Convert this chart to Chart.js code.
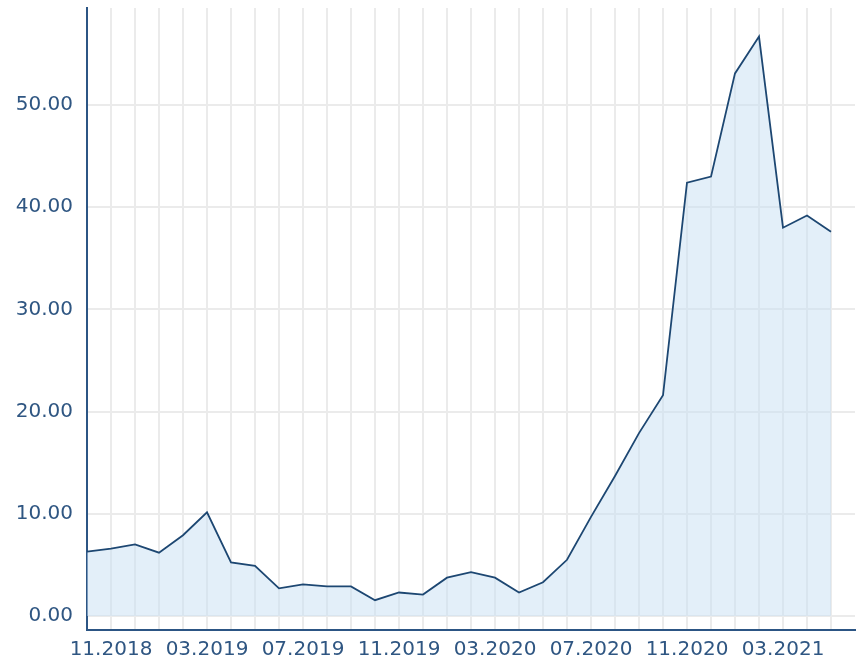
<!DOCTYPE html>
<html>
<head>
<meta charset="utf-8">
<script src="https://cdn.jsdelivr.net/npm/chart.js@4"></script>
<style>
  html, body { margin: 0; padding: 0; background: #fff; }
  #wrap { width: 861px; height: 661px; }
</style>
</head>
<body>
<div id="wrap"><canvas id="myChart" width="861" height="661"></canvas></div>
<script>
// months on the x axis (last one is the empty slot at the right edge)
const months = [
  '10.2018', '11.2018', '12.2018', '01.2019', '02.2019', '03.2019', '04.2019', '05.2019',
  '06.2019', '07.2019', '08.2019', '09.2019', '10.2019', '11.2019', '12.2019', '01.2020',
  '02.2020', '03.2020', '04.2020', '05.2020', '06.2020', '07.2020', '08.2020', '09.2020',
  '10.2020', '11.2020', '12.2020', '01.2021', '02.2021', '03.2021', '04.2021', '05.2021',
  '06.2021'
];

const values = [
  6.3, 6.6, 7.0, 6.2, 7.9, 10.15, 5.25, 4.9,
  2.7, 3.1, 2.9, 2.9, 1.55, 2.3, 2.1, 3.75,
  4.3, 3.75, 2.3, 3.3, 5.5, 9.7, 13.7, 17.9,
  21.6, 42.4, 43.0, 53.1, 56.7, 38.0, 39.2, 37.6
];

const yTicks = [0, 10, 20, 30, 40, 50];

const textColor = '#2f5682';
const axisColor = '#2c5584';

const ctx = document.getElementById('myChart').getContext('2d');
new Chart(ctx, {
  type: 'line',
  data: {
    labels: months,
    datasets: [{
      data: values,
      borderColor: '#1d4772',
      borderWidth: 1.8,
      backgroundColor: 'rgba(199, 223, 243, 0.5)',
      fill: 'origin',
      pointRadius: 0,
      tension: 0
    }]
  },
  options: {
    responsive: false,
    animation: false,
    layout: { padding: { top: 8, right: 6, left: 0, bottom: 0 } },
    plugins: { legend: { display: false }, tooltip: { enabled: false } },
    scales: {
      x: {
        offset: false,
        border: { color: axisColor, width: 2 },
        grid: {
          drawTicks: false,
          lineWidth: 2,
          color: c => (c.index === 0 || c.index === months.length - 1) ? 'rgba(0,0,0,0)' : '#ebebeb'
        },
        ticks: {
          autoSkip: false,
          maxRotation: 0,
          padding: 8,
          color: textColor,
          font: { family: 'DejaVu Sans', size: 20 },
          callback: function (value, index) {
            return index % 4 === 1 ? this.getLabelForValue(value) : '';
          }
        },
        afterFit: s => {
          s.height = 31;
          s.paddingLeft = 0;
          s.paddingRight = 0;
        }
      },
      y: {
        min: -1.37,
        max: 59.5,
        border: { color: axisColor, width: 2 },
        grid: { drawTicks: false, lineWidth: 2, color: '#ebebeb' },
        afterBuildTicks: s => { s.ticks = yTicks.map(v => ({ value: v })); },
        ticks: {
          padding: 14,
          color: textColor,
          font: { family: 'DejaVu Sans', size: 20 },
          callback: v => v.toFixed(2)
        },
        afterFit: s => {
          s.width = 87;
          s.paddingTop = 0;
          s.paddingBottom = 0;
        }
      }
    }
  }
});
</script>
</body>
</html>
